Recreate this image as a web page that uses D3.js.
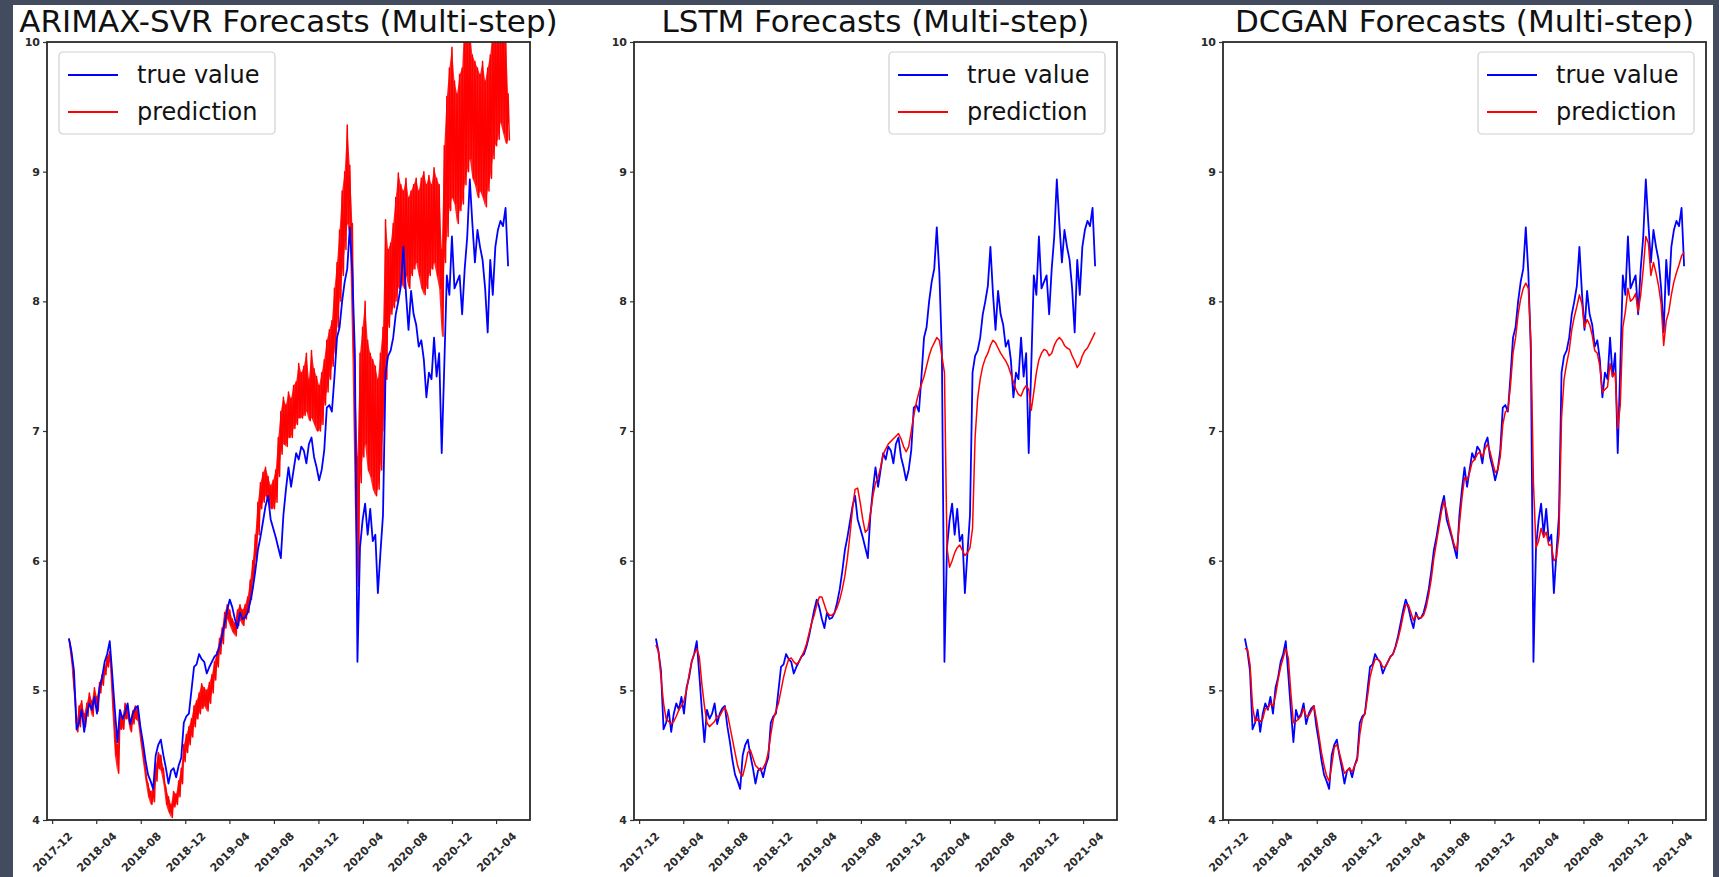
<!DOCTYPE html>
<html lang="en">
<head>
    <meta charset="UTF-8">
    <title>Forecasts (Multi-step)</title>
    <script src="https://cdn.jsdelivr.net/npm/d3@7"></script>
    <style>
        body { margin: 0; background: #434c5e; }
        svg { display: block; }
        text { font-family: "DejaVu Sans", sans-serif; }
    </style>
</head>
<body>

<svg id="chart" width="1719" height="877"></svg>

<script>
    // weekly samples, first one on 2018-01-16
    const weekStart = '2018-01-16';

    const trueValue = [
        5.40, 5.30, 5.15, 4.70, 4.75, 4.85, 4.68, 4.82, 4.90, 4.85,
        4.95, 4.82, 5.02, 5.10, 5.22, 5.28, 5.38, 5.12, 4.85, 4.60,
        4.85, 4.78, 4.82, 4.90, 4.74, 4.82, 4.86, 4.88, 4.72, 4.60,
        4.46, 4.35, 4.30, 4.24, 4.50, 4.58, 4.62, 4.50, 4.40, 4.28,
        4.38, 4.40, 4.33, 4.42, 4.48, 4.75, 4.80, 4.82, 5.00, 5.18,
        5.20, 5.28, 5.24, 5.22, 5.13, 5.18, 5.22, 5.26, 5.28, 5.34,
        5.42, 5.52, 5.62, 5.70, 5.64, 5.55, 5.48, 5.60, 5.55, 5.56,
        5.60, 5.68, 5.78, 5.92, 6.08, 6.18, 6.30, 6.42, 6.50, 6.32,
        6.25, 6.18, 6.10, 6.02, 6.35, 6.55, 6.72, 6.57, 6.70, 6.83,
        6.78, 6.88, 6.85, 6.75, 6.90, 6.95, 6.80, 6.72, 6.62, 6.70,
        6.85, 7.18, 7.20, 7.15, 7.42, 7.72, 7.80, 8.00, 8.15, 8.25,
        8.57, 8.22, 7.60, 5.22, 6.10, 6.31, 6.44, 6.20, 6.40, 6.15,
        6.20, 5.75, 6.06, 6.35, 7.45, 7.58, 7.62, 7.72, 7.90, 8.00,
        8.12, 8.42, 8.06, 7.78, 8.08, 7.90, 7.82, 7.65, 7.70, 7.55,
        7.26, 7.45, 7.40, 7.72, 7.42, 7.60, 6.83, 7.50, 8.20, 8.05,
        8.50, 8.10, 8.15, 8.20, 7.90, 8.25, 8.50, 8.94, 8.60, 8.30,
        8.55, 8.42, 8.32, 8.10, 7.76, 8.32, 8.05, 8.42, 8.55, 8.62,
        8.58, 8.72, 8.27
    ];

    // ARIMAX-SVR swings hard from day to day: top and bottom of its band each week
    const arimaxHigh = [
        5.40, 5.28, 5.05, 4.75, 4.88, 4.92, 4.82, 4.90, 4.98, 4.92,
        5.02, 4.95, 5.06, 5.12, 5.18, 5.26, 5.30, 5.05, 4.70, 4.58,
        4.82, 4.80, 4.90, 4.88, 4.76, 4.84, 4.88, 4.86, 4.70, 4.55,
        4.40, 4.28, 4.22, 4.24, 4.42, 4.52, 4.50, 4.40, 4.25, 4.18,
        4.12, 4.22, 4.20, 4.30, 4.40, 4.58, 4.66, 4.72, 4.78, 4.88,
        4.92, 4.98, 5.05, 5.02, 5.00, 5.06, 5.12, 5.22, 5.30, 5.40,
        5.48, 5.60, 5.66, 5.62, 5.55, 5.52, 5.62, 5.66, 5.62, 5.66,
        5.72, 5.85, 6.00, 6.20, 6.45, 6.60, 6.68, 6.72, 6.65, 6.58,
        6.62, 6.70, 6.95, 7.15, 7.26, 7.20, 7.30, 7.25, 7.35, 7.38,
        7.52, 7.45, 7.50, 7.60, 7.40, 7.62, 7.48, 7.42, 7.35, 7.45,
        7.55, 7.70, 7.78, 7.85, 8.10, 8.30, 8.55, 8.85, 9.00, 9.36,
        9.05, 8.60, 7.50, 6.80, 7.60, 7.80, 8.00, 7.70, 7.60, 7.55,
        7.50, 7.40, 7.60, 7.80, 8.63, 8.40, 8.45, 8.60, 8.80, 8.99,
        8.90, 8.85, 8.95, 8.80, 8.85, 8.90, 8.95, 8.85, 8.95, 9.00,
        8.90, 8.97, 8.90, 9.03, 8.95, 8.90, 8.40, 9.20, 9.58, 9.80,
        9.96, 9.70, 9.60, 9.75, 9.80, 10.2, 10.2, 10.1, 9.90, 9.85,
        9.80, 9.75, 9.85, 9.70, 9.80, 9.90, 10.1, 10.2, 10.2, 10.1,
        10.2, 10.1, 9.60
    ];
    const arimaxLow = [
        5.36, 5.20, 4.95, 4.68, 4.72, 4.80, 4.72, 4.80, 4.88, 4.80,
        4.90, 4.84, 4.98, 5.04, 5.12, 5.18, 5.22, 4.85, 4.50, 4.36,
        4.70, 4.70, 4.78, 4.78, 4.68, 4.74, 4.78, 4.76, 4.60, 4.45,
        4.30, 4.18, 4.12, 4.14, 4.30, 4.40, 4.38, 4.28, 4.12, 4.06,
        4.02, 4.10, 4.12, 4.18, 4.28, 4.45, 4.52, 4.58, 4.64, 4.72,
        4.78, 4.82, 4.86, 4.88, 4.84, 4.90, 4.98, 5.08, 5.18, 5.28,
        5.36, 5.48, 5.55, 5.50, 5.45, 5.42, 5.50, 5.54, 5.50, 5.55,
        5.60, 5.70, 5.85, 6.00, 6.20, 6.40, 6.45, 6.50, 6.45, 6.40,
        6.40, 6.45, 6.65, 6.82, 6.90, 6.88, 6.95, 6.95, 7.02, 7.05,
        7.10, 7.10, 7.12, 7.15, 7.08, 7.10, 7.05, 7.00, 7.00, 7.05,
        7.20, 7.30, 7.40, 7.50, 7.60, 7.80, 8.00, 8.20, 8.40, 8.60,
        8.50, 7.60, 6.40, 5.80, 6.60, 6.80, 6.90, 6.70, 6.65, 6.55,
        6.50, 6.55, 6.70, 7.00, 7.40, 7.80, 7.90, 7.95, 8.00, 8.10,
        8.15, 8.10, 8.20, 8.10, 8.20, 8.25, 8.30, 8.20, 8.10, 8.05,
        8.10, 8.20, 8.25, 8.30, 8.20, 8.10, 7.73, 8.30, 8.50, 8.70,
        8.80, 8.75, 8.60, 8.70, 8.75, 8.90, 9.00, 9.10, 8.95, 8.90,
        8.80, 8.85, 8.80, 8.73, 8.85, 8.95, 9.10, 9.20, 9.25, 9.38,
        9.30, 9.22, 9.24
    ];

    const lstmPred = [
        5.35, 5.30, 5.10, 4.90, 4.78, 4.76, 4.74, 4.76, 4.80, 4.85,
        4.88, 4.92, 5.00, 5.12, 5.22, 5.28, 5.32, 5.26, 5.05, 4.88,
        4.75, 4.72, 4.74, 4.76, 4.80, 4.80, 4.84, 4.87, 4.82, 4.72,
        4.62, 4.52, 4.42, 4.36, 4.34, 4.42, 4.52, 4.54, 4.48, 4.42,
        4.40, 4.38, 4.40, 4.44, 4.52, 4.66, 4.78, 4.84, 4.90, 5.00,
        5.10, 5.18, 5.24, 5.25, 5.22, 5.20, 5.22, 5.26, 5.30, 5.36,
        5.44, 5.52, 5.58, 5.66, 5.72, 5.72, 5.66, 5.60, 5.58, 5.58,
        5.60, 5.64, 5.70, 5.78, 5.88, 6.02, 6.20, 6.40, 6.55, 6.56,
        6.45, 6.32, 6.22, 6.24, 6.36, 6.50, 6.60, 6.64, 6.72, 6.82,
        6.86, 6.90, 6.92, 6.94, 6.96, 6.98, 6.94, 6.88, 6.84, 6.88,
        7.00, 7.12, 7.22, 7.30, 7.36, 7.42, 7.50, 7.58, 7.64, 7.68,
        7.72, 7.70, 7.58, 7.45, 6.10, 5.95, 6.00, 6.06, 6.10, 6.12,
        6.08, 6.04, 6.06, 6.10, 6.25, 6.95, 7.25, 7.40, 7.50, 7.56,
        7.60, 7.66, 7.70, 7.68, 7.64, 7.60, 7.57, 7.54, 7.50, 7.44,
        7.38, 7.32, 7.28, 7.27, 7.32, 7.35, 7.32, 7.16, 7.30, 7.45,
        7.55, 7.60, 7.63, 7.62, 7.58, 7.60, 7.66, 7.70, 7.72, 7.70,
        7.66, 7.64, 7.63, 7.58, 7.54, 7.49, 7.52, 7.58, 7.62, 7.64,
        7.68, 7.72, 7.76
    ];

    const dcganPred = [
        5.32, 5.32, 5.20, 4.88, 4.76, 4.78, 4.76, 4.78, 4.86, 4.86,
        4.90, 4.88, 4.96, 5.08, 5.18, 5.25, 5.32, 5.25, 4.98, 4.75,
        4.76, 4.78, 4.80, 4.86, 4.80, 4.80, 4.84, 4.88, 4.78, 4.65,
        4.52, 4.42, 4.34, 4.30, 4.42, 4.56, 4.58, 4.52, 4.44, 4.36,
        4.38, 4.40, 4.37, 4.42, 4.46, 4.66, 4.78, 4.82, 4.95, 5.10,
        5.18, 5.24, 5.24, 5.22, 5.18, 5.18, 5.22, 5.26, 5.28, 5.33,
        5.40, 5.48, 5.58, 5.66, 5.66, 5.60, 5.54, 5.58, 5.56, 5.56,
        5.58, 5.64, 5.74, 5.86, 6.02, 6.14, 6.26, 6.38, 6.46, 6.38,
        6.28, 6.20, 6.12, 6.08, 6.28, 6.48, 6.64, 6.62, 6.68, 6.76,
        6.78, 6.82, 6.84, 6.80, 6.86, 6.90, 6.84, 6.76, 6.68, 6.70,
        6.80, 7.05, 7.15, 7.16, 7.35, 7.60, 7.72, 7.90, 8.02, 8.10,
        8.14, 8.10, 7.70, 6.60, 6.10, 6.15, 6.25, 6.18, 6.22, 6.12,
        6.12, 6.00, 6.02, 6.20, 7.10, 7.40, 7.52, 7.62, 7.78, 7.88,
        7.96, 8.05, 7.98, 7.80, 7.86, 7.82, 7.74, 7.62, 7.60, 7.50,
        7.30, 7.32, 7.34, 7.52, 7.42, 7.45, 7.02, 7.20, 7.80, 7.92,
        8.10, 8.00, 8.02, 8.06, 7.92, 8.05, 8.25, 8.50, 8.45, 8.20,
        8.30, 8.22, 8.12, 7.98, 7.66, 7.85, 7.92, 8.05, 8.15, 8.22,
        8.28, 8.35, 8.38
    ];

    const titles = ['ARIMAX-SVR Forecasts (Multi-step)', 'LSTM Forecasts (Multi-step)', 'DCGAN Forecasts (Multi-step)'];
    const legendLabels = ['true value', 'prediction'];
    const xTicks = ['2017-12-01', '2018-04-01', '2018-08-01', '2018-12-01', '2019-04-01', '2019-08-01',
        '2019-12-01', '2020-04-01', '2020-08-01', '2020-12-01', '2021-04-01'];
    const yTicks = [4, 5, 6, 7, 8, 9, 10];
    const xDomain = ['2017-11-17', '2021-07-03'];
    const yDomain = [4, 10];

    const TRUE_COLOR = '#0000ff';
    const PRED_COLOR = '#ff0000';
    const PANEL_LEFT = [47, 634, 1223];
    const PLOT_W = 483;
    const TOP = 42;
    const BOTTOM = 820;

    const parseDate = d3.utcParse('%Y-%m-%d');
    const weekDates = trueValue.map((d, i) => d3.utcDay.offset(parseDate(weekStart), 7 * i));
    const series = (values) => values.map((v, i) => ({date: weekDates[i], value: v}));
    // high point on the week's date, low point half a week later
    const zigzag = (hi, lo) => hi.flatMap((v, i) => [
        {date: weekDates[i], value: v},
        {date: d3.utcHour.offset(weekDates[i], 84), value: lo[i]}
    ]);
    const band = (hi, lo) => hi.map((v, i) => ({date: weekDates[i], hi: v, lo: lo[i]}));

    const svg = d3.select('#chart');
    svg.append('rect')
        .attr('x', 13).attr('y', 5)
        .attr('width', 1700).attr('height', 872)
        .attr('fill', '#ffffff');

    const drawPanel = (idx, layers, legendLeft) => {
        const left = PANEL_LEFT[idx];
        const x = d3.scaleUtc().domain(xDomain.map(parseDate)).range([left, left + PLOT_W]);
        const y = d3.scaleLinear().domain(yDomain).range([BOTTOM, TOP]);
        const g = svg.append('g');

        g.append('clipPath').attr('id', `clip-${idx}`)
            .append('rect')
            .attr('x', left).attr('y', TOP)
            .attr('width', PLOT_W).attr('height', BOTTOM - TOP);

        const lineGen = d3.line().x(d => x(d.date)).y(d => y(d.value));
        const areaGen = d3.area().x(d => x(d.date)).y0(d => y(d.lo)).y1(d => y(d.hi));
        const lines = g.append('g').attr('clip-path', `url(#clip-${idx})`);
        layers.forEach((layer) => {
            if (layer.band) {
                lines.append('path')
                    .datum(layer.band)
                    .attr('fill', layer.color)
                    .attr('fill-opacity', 0.85)
                    .attr('d', areaGen);
            }
            lines.append('path')
                .datum(layer.points)
                .attr('fill', 'none')
                .attr('stroke', layer.color)
                .attr('stroke-width', layer.width)
                .attr('stroke-linejoin', 'round')
                .attr('d', lineGen);
        });

        // axes
        const xAxis = d3.axisBottom(x)
            .tickValues(xTicks.map(parseDate))
            .tickFormat(d3.utcFormat('%Y-%m'))
            .tickSize(4)
            .tickSizeOuter(0);
        const xg = g.append('g')
            .attr('transform', `translate(0, ${BOTTOM})`)
            .call(xAxis);
        xg.selectAll('text')
            .attr('y', 0)
            .attr('dy', '0.35em')
            .attr('text-anchor', 'middle')
            .attr('transform', 'translate(0, 32) rotate(-45)');

        const yAxis = d3.axisLeft(y)
            .tickValues(yTicks)
            .tickFormat(d3.format('d'))
            .tickSize(4)
            .tickPadding(3)
            .tickSizeOuter(0);
        const yg = g.append('g')
            .attr('transform', `translate(${left}, 0)`)
            .call(yAxis);

        [xg, yg].forEach((ax) => {
            ax.select('.domain').remove();
            ax.selectAll('line').attr('stroke', '#333').attr('stroke-width', 1.2);
            ax.selectAll('text')
                .attr('fill', '#2a2a2a')
                .style('font-size', '11px')
                .style('font-weight', 'bold');
        });

        g.append('rect')
            .attr('x', left).attr('y', TOP)
            .attr('width', PLOT_W).attr('height', BOTTOM - TOP)
            .attr('fill', 'none')
            .attr('stroke', '#2a2a2a')
            .attr('stroke-width', 1.8);

        g.append('text')
            .attr('x', left + PLOT_W / 2)
            .attr('y', 32)
            .attr('text-anchor', 'middle')
            .attr('fill', '#111')
            .style('font-size', '31px')
            .text(titles[idx]);

        // legend
        const boxW = 216, boxH = 82;
        const lx = legendLeft ? left + 12 : left + PLOT_W - 12 - boxW;
        const legend = g.append('g').attr('transform', `translate(${lx}, 52)`);
        legend.append('rect')
            .attr('width', boxW).attr('height', boxH)
            .attr('rx', 4)
            .attr('fill', '#fff').attr('fill-opacity', 0.85)
            .attr('stroke', '#d0d0d0').attr('stroke-width', 1.2);
        const entries = legend.selectAll('.entry')
            .data([TRUE_COLOR, PRED_COLOR])
            .join('g')
            .attr('class', 'entry')
            .attr('transform', (d, i) => `translate(0, ${23 + i * 37})`);
        entries.append('line')
            .attr('x1', 9).attr('x2', 59)
            .attr('stroke', d => d)
            .attr('stroke-width', 2);
        entries.append('text')
            .attr('x', 78)
            .attr('dy', '0.35em')
            .attr('fill', '#111')
            .style('font-size', '24px')
            .text((d, i) => legendLabels[i]);
    };

    drawPanel(0, [
        {points: zigzag(arimaxHigh, arimaxLow), band: band(arimaxHigh, arimaxLow), color: PRED_COLOR, width: 1.5},
        {points: series(trueValue), color: TRUE_COLOR, width: 1.8}
    ], true);
    drawPanel(1, [
        {points: series(trueValue), color: TRUE_COLOR, width: 1.8},
        {points: series(lstmPred), color: PRED_COLOR, width: 1.5}
    ], false);
    drawPanel(2, [
        {points: series(trueValue), color: TRUE_COLOR, width: 1.8},
        {points: series(dcganPred), color: PRED_COLOR, width: 1.5}
    ], false);
</script>
</body>
</html>
